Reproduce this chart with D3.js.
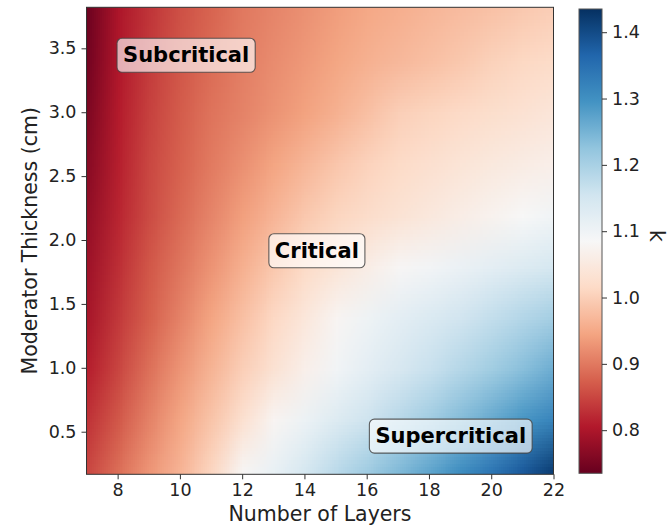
<!DOCTYPE html>
<html>
<head>
<meta charset="utf-8">
<script src="https://cdn.jsdelivr.net/npm/d3@7"></script>
<style>
  body { margin: 0; background: #fff; }
  svg text { font-family: "DejaVu Sans", sans-serif; fill: #222; }
</style>
</head>
<body>
<svg id="chart" width="671" height="527"></svg>
<script>
// Grid nodes of the heatmap
var layers = [7, 8, 9, 10, 11, 12, 13, 14, 15, 16, 17, 18, 19, 20, 21, 22];
var thickness = [3.8, 3.4, 3.0, 2.6, 2.2, 1.8, 1.4, 1.0, 0.6, 0.2];

// k per layer count, one array per moderator thickness (top to bottom)
var k38 = [0.740, 0.800, 0.833, 0.860, 0.880, 0.900, 0.913, 0.925, 0.938, 0.950, 0.958, 0.967, 0.975, 0.983, 0.992, 1.000];
var k34 = [0.745, 0.803, 0.840, 0.866, 0.887, 0.905, 0.920, 0.933, 0.947, 0.960, 0.970, 0.980, 0.990, 1.003, 1.012, 1.020];
var k30 = [0.755, 0.808, 0.846, 0.872, 0.895, 0.910, 0.927, 0.943, 0.960, 0.980, 1.000, 1.008, 1.016, 1.024, 1.032, 1.042];
var k26 = [0.765, 0.812, 0.852, 0.877, 0.902, 0.924, 0.946, 0.967, 0.988, 1.005, 1.017, 1.028, 1.039, 1.049, 1.058, 1.066];
var k22 = [0.775, 0.818, 0.856, 0.885, 0.913, 0.940, 0.965, 0.990, 1.008, 1.021, 1.034, 1.047, 1.060, 1.072, 1.085, 1.097];
var k18 = [0.785, 0.827, 0.867, 0.897, 0.928, 0.959, 0.990, 1.017, 1.039, 1.060, 1.081, 1.095, 1.107, 1.120, 1.132, 1.145];
var k14 = [0.795, 0.837, 0.875, 0.910, 0.946, 0.980, 1.013, 1.044, 1.078, 1.102, 1.120, 1.137, 1.154, 1.171, 1.188, 1.205];
var k10 = [0.810, 0.850, 0.892, 0.929, 0.964, 1.000, 1.033, 1.066, 1.096, 1.120, 1.142, 1.164, 1.186, 1.208, 1.233, 1.260];
var k06 = [0.830, 0.868, 0.910, 0.948, 0.986, 1.030, 1.077, 1.106, 1.132, 1.157, 1.183, 1.210, 1.237, 1.264, 1.292, 1.320];
var k02 = [0.850, 0.890, 0.930, 0.965, 1.010, 1.080, 1.110, 1.145, 1.180, 1.210, 1.240, 1.270, 1.305, 1.340, 1.380, 1.420];
var kRows = [k38, k34, k30, k26, k22, k18, k14, k10, k06, k02];

var xTicks = [8, 10, 12, 14, 16, 18, 20, 22];
var yTicks = [0.5, 1.0, 1.5, 2.0, 2.5, 3.0, 3.5];
var kTicks = [0.8, 0.9, 1.0, 1.1, 1.2, 1.3, 1.4];

var regionNames = ['Subcritical', 'Critical', 'Supercritical'];
var regionX = [10.2, 14.4, 18.7];
var regionY = [3.45, 1.92, 0.47];

// matplotlib RdBu
var rdbu = ['#67001f', '#b2182b', '#d6604d', '#f4a582', '#fddbc7', '#f7f7f7',
            '#d1e5f0', '#92c5de', '#4393c3', '#2166ac', '#053061'];
var kMin = 0.735, kMax = 1.435;

var svg = d3.select('#chart');
var plot = {left: 86.5, right: 553.5, top: 7.3, bottom: 474.3};
var bar = {left: 579, right: 602, top: 9, bottom: 473.3};

var x = d3.scaleLinear().domain([7, 22]).range([plot.left, plot.right]);
var y = d3.scaleLinear().domain([0.1667, 3.821]).range([plot.bottom, plot.top]);
var kScale = d3.scaleLinear().domain([kMin, kMax]).range([bar.bottom, bar.top]);

var color = d3.scaleLinear()
  .domain(rdbu.map(function(c, i) { return kMin + i * (kMax - kMin) / (rdbu.length - 1); }))
  .range(rdbu)
  .interpolate(d3.interpolateRgb)
  .clamp(true);

// Heatmap: one pixel per grid node (edges repeated), scaled up smoothly
var nx = layers.length, ny = thickness.length;
var canvas = document.createElement('canvas');
canvas.width = nx + 2;
canvas.height = ny + 2;
var ctx = canvas.getContext('2d');
for (var j = -1; j <= ny; j++) {
  for (var i = -1; i <= nx; i++) {
    var jj = Math.max(0, Math.min(ny - 1, j));
    var ii = Math.max(0, Math.min(nx - 1, i));
    ctx.fillStyle = color(kRows[jj][ii]);
    ctx.fillRect(i + 1, j + 1, 1, 1);
  }
}
var dx = layers[1] - layers[0];
var dy = thickness[0] - thickness[1];
var x0 = layers[0] - 1.5 * dx, x1 = layers[nx - 1] + 1.5 * dx;
var y0 = thickness[0] + 1.5 * dy, y1 = thickness[ny - 1] - 1.5 * dy;

var defs = svg.append('defs');
defs.append('clipPath').attr('id', 'plot-clip')
  .append('rect')
    .attr('x', plot.left).attr('y', plot.top)
    .attr('width', plot.right - plot.left).attr('height', plot.bottom - plot.top);

svg.append('g').attr('clip-path', 'url(#plot-clip)')
  .append('image')
    .attr('href', canvas.toDataURL())
    .attr('preserveAspectRatio', 'none')
    .attr('x', x(x0)).attr('y', y(y0))
    .attr('width', x(x1) - x(x0)).attr('height', y(y1) - y(y0));

svg.append('rect')
  .attr('x', plot.left).attr('y', plot.top)
  .attr('width', plot.right - plot.left).attr('height', plot.bottom - plot.top)
  .attr('fill', 'none').attr('stroke', '#333').attr('stroke-width', 1);

// Axes
function styleAxis(g) {
  g.select('.domain').remove();
  g.selectAll('.tick line').attr('stroke', '#333');
  g.selectAll('.tick text').attr('font-size', 17.5).attr('fill', '#222');
}

svg.append('g')
  .attr('transform', 'translate(0,' + plot.bottom + ')')
  .call(d3.axisBottom(x).tickValues(xTicks).tickSize(5).tickPadding(4).tickFormat(d3.format('d')))
  .call(styleAxis);

svg.append('g')
  .attr('transform', 'translate(' + plot.left + ',0)')
  .call(d3.axisLeft(y).tickValues(yTicks).tickSize(5).tickPadding(5).tickFormat(d3.format('.1f')))
  .call(styleAxis);

svg.append('text')
  .attr('x', (plot.left + plot.right) / 2).attr('y', 521)
  .attr('text-anchor', 'middle').attr('font-size', 20.5)
  .text('Number of Layers');

svg.append('text')
  .attr('transform', 'translate(37,' + (plot.top + plot.bottom) / 2 + ') rotate(-90)')
  .attr('text-anchor', 'middle').attr('font-size', 20.5)
  .text('Moderator Thickness (cm)');

// Region labels
regionNames.forEach(function(name, i) {
  var g = svg.append('g');
  var t = g.append('text')
    .attr('x', x(regionX[i])).attr('y', y(regionY[i]))
    .attr('dy', '0.36em')
    .attr('text-anchor', 'middle')
    .attr('font-size', 21).attr('font-weight', 'bold')
    .style('fill', '#000')
    .text(name);
  var bb = t.node().getBBox();
  g.insert('rect', 'text')
    .attr('x', bb.x - 6).attr('y', bb.y - 5)
    .attr('width', bb.width + 12).attr('height', bb.height + 10)
    .attr('rx', 5)
    .attr('fill', '#fff').attr('fill-opacity', 0.65)
    .attr('stroke', '#444').attr('stroke-opacity', 0.85).attr('stroke-width', 1.1);
});

// Colorbar
var grad = defs.append('linearGradient').attr('id', 'kgrad')
  .attr('x1', 0).attr('y1', 1).attr('x2', 0).attr('y2', 0);
d3.range(0, 1.0001, 0.02).forEach(function(t) {
  grad.append('stop')
    .attr('offset', t)
    .attr('stop-color', color(kMin + t * (kMax - kMin)));
});
svg.append('rect')
  .attr('x', bar.left).attr('y', bar.top)
  .attr('width', bar.right - bar.left).attr('height', bar.bottom - bar.top)
  .attr('fill', 'url(#kgrad)')
  .attr('stroke', '#555').attr('stroke-width', 1);

svg.append('g')
  .attr('transform', 'translate(' + bar.right + ',0)')
  .call(d3.axisRight(kScale).tickValues(kTicks).tickSize(5).tickPadding(5).tickFormat(d3.format('.1f')))
  .call(styleAxis);

svg.append('text')
  .attr('transform', 'translate(650,236) rotate(90)')
  .attr('text-anchor', 'middle').attr('font-size', 20.5)
  .text('k');
</script>
</body>
</html>
